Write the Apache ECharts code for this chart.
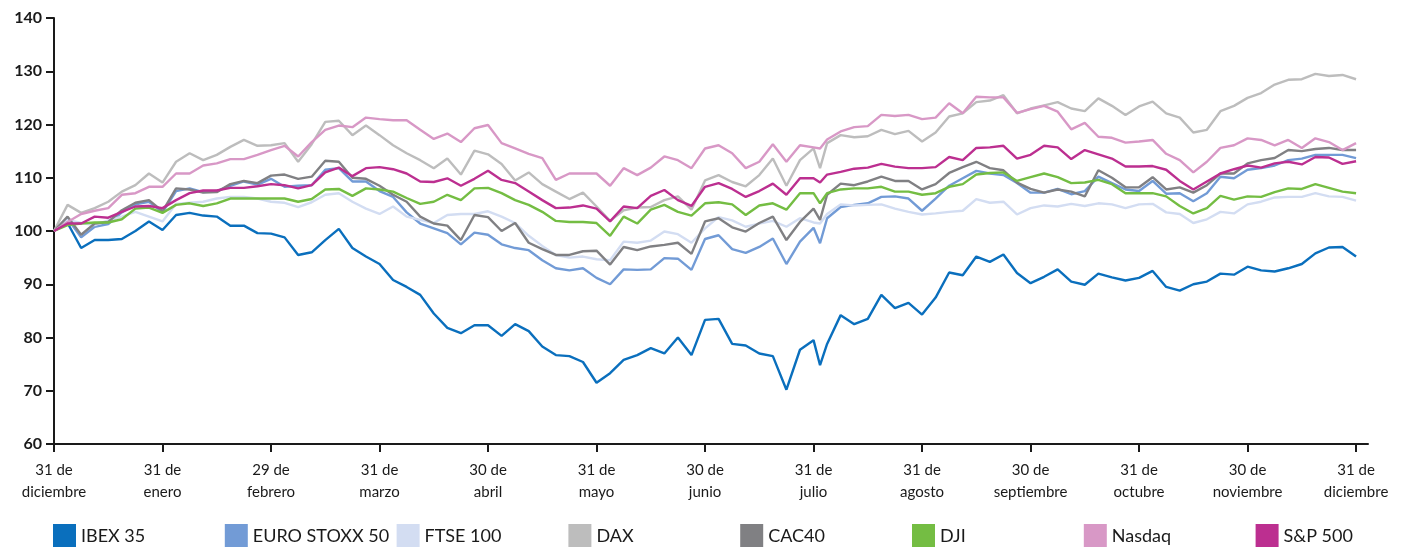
<!DOCTYPE html>
<html>
<head>
<meta charset="utf-8">
<script src="https://cdn.jsdelivr.net/npm/echarts@6/dist/echarts.min.js"></script>
<style>
html,body{margin:0;padding:0;background:#fff;}
#chart{width:1404px;height:547px;}
</style>
</head>
<body>
<div id="chart"></div>
<script>
// x positions in months since 31 Dec 2011
const months = [0,0.125,0.25,0.375,0.5,0.625,0.75,0.875,1,1.125,1.25,1.375,1.5,1.625,1.75,1.875,
  2,2.125,2.25,2.375,2.5,2.625,2.75,2.875,3,3.125,3.25,3.375,3.5,3.625,3.75,3.875,
  4,4.125,4.25,4.375,4.5,4.625,4.75,4.875,5,5.125,5.25,5.375,5.5,5.625,5.75,5.875,
  6,6.125,6.25,6.375,6.5,6.625,6.75,6.875,7,7.06,7.125,7.25,7.375,7.5,7.625,7.75,7.875,
  8,8.125,8.25,8.375,8.5,8.625,8.75,8.875,9,9.125,9.25,9.375,9.5,9.625,9.75,9.875,
  10,10.125,10.25,10.375,10.5,10.625,10.75,10.875,11,11.125,11.25,11.375,11.5,11.625,11.75,11.875,12];

const tickLabels = ["31 de\ndiciembre","31 de\nenero","29 de\nfebrero","31 de\nmarzo","30 de\nabril","31 de\nmayo","30 de\njunio","31 de\njulio","31 de\nagosto","30 de\nseptiembre","31 de\noctubre","30 de\nnoviembre","31 de\ndiciembre"];

const seriesNames = ["IBEX 35","EURO STOXX 50","FTSE 100","DAX","CAC40","DJI","Nasdaq","S&P 500"];
const seriesColors = ["#0a6fbd","#729bd6","#d3ddf2","#bdbdbd","#808083","#74bd43","#d898c6","#bc2f90"];

const ibex = [100,101.5,96.8,98.3,98.3,98.5,100,101.8,100.2,103,103.4,102.9,102.7,101,101,99.6,
  99.5,98.8,95.5,96,98.3,100.4,96.8,95.2,93.8,90.8,89.5,88,84.5,81.8,80.8,82.3,
  82.3,80.3,82.5,81.2,78.3,76.7,76.5,75.4,71.5,73.3,75.8,76.7,78,77,80,76.7,
  83.3,83.5,78.8,78.5,77,76.5,70.2,77.7,79.5,74.8,78.8,84.2,82.5,83.5,88,85.5,86.5,
  84.3,87.5,92.2,91.7,95.2,94.2,95.6,92.1,90.2,91.4,92.8,90.5,89.9,92,91.3,90.7,
  91.2,92.5,89.5,88.8,90,90.5,92,91.8,93.3,92.6,92.4,93,93.8,95.8,96.9,97,95.2];
const euroStoxx = [100,102.3,98.8,100.8,101.3,103.5,105,105.5,103.5,107.5,108,107.3,107.5,108.5,109.3,108.7,
  109.8,108.3,108.5,108.6,111.5,111.8,109.3,109.3,107.5,106.4,103.5,101.4,100.5,99.6,97.5,99.7,
  99.3,97.5,96.8,96.4,94.5,93,92.6,93,91.2,90,92.8,92.7,92.8,94.9,94.8,92.7,
  98.5,99.2,96.6,95.9,97,98.6,93.8,98,100.6,97.7,102.4,104.5,104.9,105.2,106.4,106.5,106.1,
  103.8,106.1,108.5,109.9,111.3,110.8,110.5,109,107.2,107.2,107.9,106.9,107.5,110.2,109,107.8,
  107.5,109.4,107,107.1,105.6,107.1,110.2,109.9,111.5,111.8,112.3,113.3,113.6,114.3,114.3,114.3,113.7];
const ftse = [100,102.1,101.5,101.1,102,102.7,103.6,102.7,101.8,105.1,105.3,105.5,106.1,106.4,106.4,106.1,
  105.5,105.3,104.5,105.4,106.8,107.1,105.5,104.2,103.2,104.6,102.7,102.1,101.5,103,103.2,103.2,
  103.7,102.7,101.5,99.1,97.2,95.5,95,95.2,94.7,94.5,98,97.8,98.2,99.9,99.4,97.8,
  100.5,102.6,102,100.8,101.4,101.9,100.8,102.4,101.6,101.4,103.2,105,104.8,104.9,105,104.2,103.6,
  103.1,103.3,103.6,103.8,106,105.3,105.5,103.1,104.3,104.8,104.6,105.1,104.7,105.2,105,104.3,
  105,105.1,103.5,103.2,101.5,102.2,103.6,103.3,105,105.5,106.3,106.4,106.4,107.1,106.5,106.4,105.7];
const dax = [100,104.9,103.4,104.3,105.5,107.4,108.6,110.8,109.1,113,114.6,113.3,114.3,115.8,117.1,116,
  116.1,116.5,113,116.3,120.5,120.7,118,119.8,118,116.1,114.6,113.3,111.8,113.6,110.6,115.1,
  114.4,112.6,109.5,111,108.8,107.4,106,107.2,104.6,101.9,103.9,104.4,104.5,105.8,106.5,104,
  109.5,110.5,109.2,108.4,110.5,113.6,108.5,113.3,115.5,111.8,116.5,118,117.6,117.8,119,118.2,118.8,
  116.8,118.5,121.5,122.1,124.2,124.5,125.5,122.1,123,123.6,124.2,123,122.5,124.9,123.5,121.8,
  123.4,124.3,122.1,121.3,118.5,119,122.5,123.5,125,125.9,127.5,128.4,128.5,129.5,129.1,129.3,128.5];
const cac = [100,102.7,99.3,101.4,101.7,103.9,105.3,105.8,103.7,108,107.8,107.2,107.3,108.8,109.4,109,
  110.4,110.6,109.8,110.2,113.2,113,110,109.8,108.5,106.8,105.5,102.7,101.4,101,98.3,103,
  102.6,100,101.5,97.8,96.6,95.5,95.5,96.2,96.3,93.7,97,96.4,97.1,97.4,97.8,95.7,
  101.8,102.4,100.7,99.9,101.5,102.7,98.3,101.7,104.2,102.1,106.8,108.9,108.6,109.3,110.2,109.4,109.4,
  107.8,108.8,110.9,112,113,111.8,111.4,109.1,107.9,107.2,107.8,107.4,106.5,111.4,110,108.2,
  108.2,110.1,107.8,108.2,107.2,108.6,110.8,110.8,112.7,113.3,113.7,115.2,115,115.4,115.6,115.2,115.2];
const dji = [100,101.1,101.4,101.6,101.6,102.2,104.2,104.4,103.4,104.9,105.2,104.7,105.2,106.1,106.1,106.1,
  106.1,106.1,105.5,106,107.8,107.9,106.6,108,107.8,107.4,106.2,105.1,105.5,106.8,105.8,108,
  108.1,107.1,105.8,104.9,103.6,101.9,101.7,101.7,101.5,99.1,102.7,101.4,104,104.9,103.6,102.9,
  105.2,105.4,105,103,104.8,105.2,104,107.1,107.1,105.2,107.1,107.8,108,108,108.3,107.4,107.4,
  106.8,107.1,108.3,108.8,110.6,110.9,111,109.4,110.1,110.8,110.1,109,109.1,109.6,108.8,107.1,
  107.1,107.1,106.5,104.7,103.3,104.3,106.6,105.9,106.5,106.4,107.3,108,107.9,108.8,108.1,107.4,107.1];
const nasdaq = [100,101.7,103.2,103.8,104.3,106.8,107.1,108.3,108.3,110.8,110.8,112.3,112.7,113.5,113.5,114.3,
  115.2,116,114,116.7,119,119.8,119.5,121.3,121,120.8,120.8,119,117.3,118.3,116.7,119.3,
  119.9,116.5,115.5,114.5,113.7,109.6,110.8,110.8,110.8,108.5,111.8,110.5,111.9,114,113.3,111.8,
  115.5,116.1,114.6,111.8,113,116.3,113,116.1,115.7,115.5,117.2,118.7,119.5,119.7,121.8,121.6,121.8,
  121,121.3,124,122.1,125.2,125.1,125.1,122.2,122.9,123.5,122.4,119.1,120.3,117.7,117.5,116.6,
  116.8,117.1,114.5,113.3,111,113,115.6,116.1,117.4,117.1,116.1,117.1,115.6,117.4,116.7,115.2,116.5];
const sp500 = [100,101.4,101.4,102.7,102.5,103.6,104.6,104.7,104.3,105.8,107.1,107.6,107.6,108.1,108.1,108.4,
  108.8,108.6,108,108.6,111,111.9,110.3,111.8,112,111.6,110.8,109.3,109.2,109.9,108.5,109.8,
  111.3,109.6,109,107.4,105.8,104.3,104.4,104.8,104.2,101.8,104.6,104.3,106.6,107.7,105.8,104.7,
  108.3,109,107.9,106.4,107.5,108.9,106.8,109.9,109.9,109.1,110.6,111.1,111.7,111.9,112.6,112.1,111.8,
  111.8,112,113.9,113.3,115.6,115.7,116,113.6,114.3,116,115.7,113.5,115.2,114.4,113.6,112.1,
  112.1,112.2,111.5,109.4,107.8,109.3,110.8,111.6,112.3,111.9,112.7,113,112.5,113.9,113.8,112.6,113.1];

const allValues = [ibex, euroStoxx, ftse, dax, cac, dji, nasdaq, sp500];
const yTicks = [60,70,80,90,100,110,120,130,140];
const xTicks = [0,1,2,3,4,5,6,7,8,9,10,11,12];

const chart = echarts.init(document.getElementById('chart'), null, {renderer:'canvas'});
const font = 'Lato, "Open Sans", sans-serif';

const series = seriesNames.map((name, k) => ({
  name: name,
  type: 'line',
  data: months.map((m, i) => [m, allValues[k][i]]),
  showSymbol: false,
  symbol: 'none',
  lineStyle: {width: 2.4, color: seriesColors[k]},
  itemStyle: {color: seriesColors[k]},
  emphasis: {disabled: true},
  animation: false,
  z: 2 + k
}));

const legends = seriesNames.map((name, k) => ({
  data: [name],
  left: 53 + k * 171.8,
  top: 524,
  itemWidth: 23,
  itemHeight: 25,
  icon: 'rect',
  itemGap: 4,
  padding: 0,
  selectedMode: false,
  textStyle: {fontFamily: font, fontSize: 18, color: '#1a1a1a'}
}));

chart.setOption({
  backgroundColor: '#ffffff',
  animation: false,
  grid: {left: 54, right: 36, top: 18, bottom: 103, containLabel: false},
  legend: legends,
  xAxis: {
    type: 'value',
    min: 0,
    max: 12.11,
    interval: 1,
    axisLine: {show: true, onZero: false, lineStyle: {color: '#1a1a1a', width: 2}},
    axisTick: {show: true, length: 8, inside: false, customValues: xTicks, lineStyle: {color: '#1a1a1a', width: 2}},
    axisLabel: {
      customValues: xTicks,
      margin: 15,
      fontFamily: font, fontSize: 15, color: '#1a1a1a', lineHeight: 22,
      formatter: v => tickLabels[Math.round(v)] || ''
    },
    splitLine: {show: false}
  },
  yAxis: {
    type: 'value',
    min: 60, max: 140, interval: 10,
    axisLine: {show: true, lineStyle: {color: '#1a1a1a', width: 2}},
    axisTick: {show: true, length: 8, lineStyle: {color: '#1a1a1a', width: 2}},
    axisLabel: {margin: 12, fontFamily: font, fontSize: 16, fontWeight: 'bold', color: '#1a1a1a',
      formatter: v => yTicks.indexOf(v) >= 0 ? String(v) : ''},
    splitLine: {show: false}
  },
  series: series
});
</script>
</body>
</html>
